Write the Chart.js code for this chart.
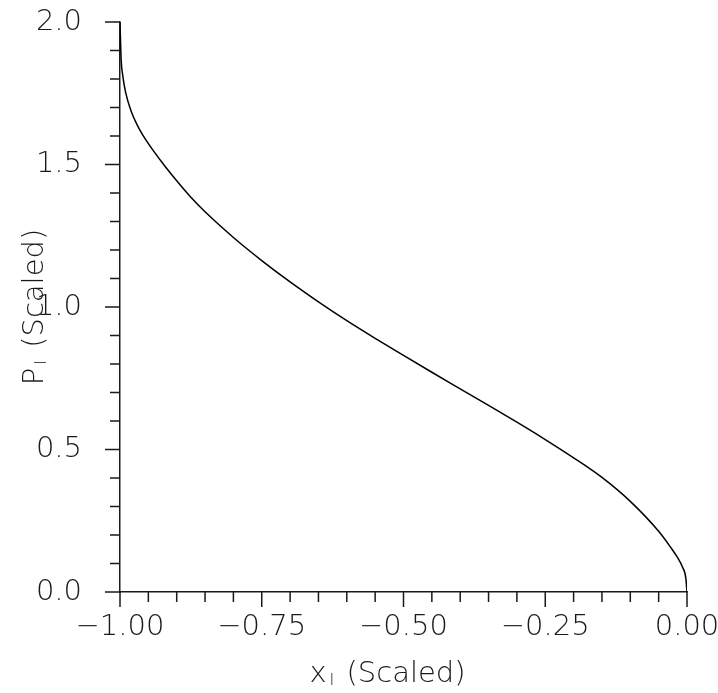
<!DOCTYPE html>
<html>
<head>
<meta charset="utf-8">
<script src="https://cdn.jsdelivr.net/npm/chart.js@4.4.0/dist/chart.umd.min.js"></script>
<style>
  html, body { margin: 0; padding: 0; background: #fff; }
  #wrap { width: 718px; height: 693px; }
</style>
</head>
<body>
<div id="wrap"><canvas id="chart"></canvas></div>
<script>
// Curve (x scaled, P scaled)
const xValues = [-1.000, -0.998, -0.995, -0.990, -0.980, -0.970, -0.960, -0.940, -0.920, -0.900,
                 -0.875, -0.850, -0.800, -0.750, -0.700, -0.650, -0.600, -0.550, -0.500, -0.450,
                 -0.400, -0.350, -0.300, -0.250, -0.200, -0.150, -0.100, -0.050, -0.030, -0.017,
                 -0.008, -0.002, 0.000];
const pValues = [2.000, 1.870, 1.810, 1.752, 1.685, 1.640, 1.604, 1.545, 1.492, 1.443,
                 1.385, 1.334, 1.244, 1.163, 1.088, 1.018, 0.952, 0.890, 0.830, 0.771,
                 0.713, 0.655, 0.596, 0.535, 0.471, 0.402, 0.318, 0.213, 0.160, 0.122,
                 0.088, 0.048, 0.000];

const xTickStep = 0.05, xMajorStep = 0.25;
const yTickStep = 0.1, yMajorStep = 0.5;

const FONT = "'DejaVu Sans', sans-serif";
const WEIGHT = 200;
const INK = '#1a1a1a';

function isMajor(v, step) {
    const r = v / step;
    return Math.abs(r - Math.round(r)) < 1e-6;
}

function fmt(v, digits) {
    const s = Math.abs(v).toFixed(digits);
    return v < -1e-9 ? '\u2212' + s : s;
}

// Tick marks (long for labelled ticks, short for the rest) and axis titles
const axisDecor = {
    id: 'axisDecor',
    afterDraw(chart) {
        const ctx = chart.ctx;
        const xs = chart.scales.x, ys = chart.scales.y;
        const area = chart.chartArea;
        ctx.save();
        ctx.strokeStyle = INK;
        ctx.lineWidth = 1.5;
        ctx.beginPath();
        ys.ticks.forEach(t => {
            const py = ys.getPixelForValue(t.value);
            const len = isMajor(t.value, yMajorStep) ? 15 : 10;
            ctx.moveTo(area.left, py);
            ctx.lineTo(area.left - len, py);
        });
        xs.ticks.forEach(t => {
            const px = xs.getPixelForValue(t.value);
            const len = isMajor(t.value, xMajorStep) ? 15 : 10;
            ctx.moveTo(px, area.bottom);
            ctx.lineTo(px, area.bottom + len);
        });
        ctx.stroke();

        // titles with subscript
        ctx.fillStyle = INK;
        ctx.textBaseline = 'alphabetic';
        const big = WEIGHT + ' 29px ' + FONT, small = WEIGHT + ' 16px ' + FONT;
        const drawTitle = (main, sub, rest, cx, cy) => {
            ctx.font = big;
            const w1 = ctx.measureText(main).width;
            const w3 = ctx.measureText(rest).width;
            ctx.font = small;
            const w2 = ctx.measureText(sub).width;
            const total = w1 + w2 + w3 + 6;
            let x = cx - total / 2;
            ctx.textAlign = 'left';
            ctx.font = big;
            ctx.fillText(main, x, cy);
            x += w1 + 3;
            ctx.font = small;
            ctx.fillText(sub, x, cy + 3);
            x += w2 + 3;
            ctx.font = big;
            ctx.fillText(rest, x, cy);
        };
        drawTitle('x', 'I', ' (Scaled)', (area.left + area.right) / 2 - 16, area.bottom + 90);
        ctx.save();
        ctx.translate(43, (area.top + area.bottom) / 2);
        ctx.rotate(-Math.PI / 2);
        drawTitle('P', 'I', ' (Scaled)', 0, 0);
        ctx.restore();
        ctx.restore();
    }
};

const points = xValues.map((x, i) => ({ x: x, y: pValues[i] }));

new Chart(document.getElementById('chart'), {
    type: 'line',
    data: {
        datasets: [{
            data: points,
            borderColor: '#000',
            borderWidth: 1.5,
            pointRadius: 0,
            fill: false,
            cubicInterpolationMode: 'monotone'
        }]
    },
    options: {
        responsive: true,
        maintainAspectRatio: false,
        animation: false,
        layout: { padding: { left: 0, top: 22, right: 0, bottom: 0 } },
        plugins: { legend: { display: false }, tooltip: { enabled: false } },
        scales: {
            x: {
                type: 'linear',
                min: -1, max: 0,
                grid: { display: false, drawTicks: false },
                border: { display: true, color: INK, width: 1.5 },
                ticks: {
                    stepSize: xTickStep,
                    autoSkip: false,
                    maxRotation: 0,
                    padding: 18,
                    color: INK,
                    font: { family: FONT, size: 29, weight: WEIGHT },
                    callback: v => isMajor(v, xMajorStep) ? fmt(v, 2) : ''
                },
                afterFit(scale) {
                    scale.height = 101;
                    scale.paddingRight = 31;
                }
            },
            y: {
                min: 0, max: 2,
                grid: { display: false, drawTicks: false },
                border: { display: true, color: INK, width: 1.5 },
                ticks: {
                    stepSize: yTickStep,
                    autoSkip: false,
                    padding: 38,
                    color: INK,
                    font: { family: FONT, size: 29, weight: WEIGHT },
                    callback: v => isMajor(v, yMajorStep) ? v.toFixed(1) : ''
                },
                afterFit(scale) {
                    scale.width = 120;
                    scale.paddingTop = 0;
                    scale.paddingBottom = 0;
                }
            }
        }
    },
    plugins: [axisDecor]
});
</script>
</body>
</html>
